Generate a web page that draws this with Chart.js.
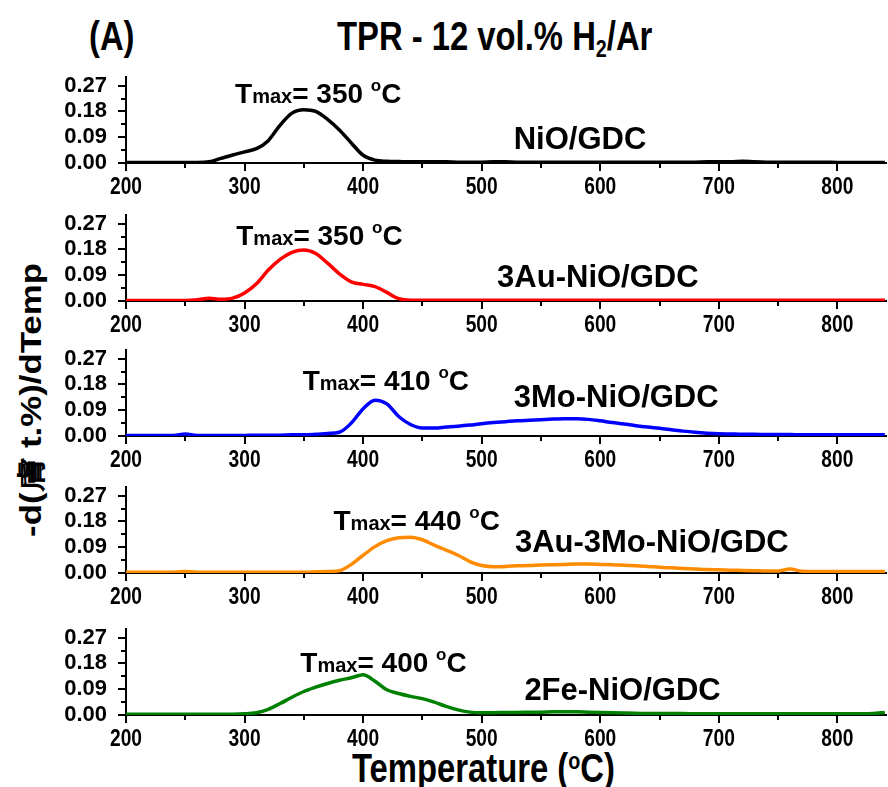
<!DOCTYPE html>
<html>
<head>
<meta charset="utf-8">
<script src="https://cdn.jsdelivr.net/npm/chart.js@4.4.1/dist/chart.umd.min.js"></script>
<style>
  body { margin: 0; background: #fff; }
  #page { position: relative; width: 888px; height: 787px; overflow: hidden; font-family: "Liberation Sans", Arial, sans-serif; font-weight: bold; color: #000; }
  .panel { position: absolute; left: 0; }
  .txt { position: absolute; white-space: nowrap; line-height: 1; }
  .cond { transform-origin: 0 0; transform: scaleX(0.82); font-size: 40px; }
  sup { font-size: 60%; vertical-align: 0; position: relative; top: -0.55em; }
  sub { font-size: 60%; vertical-align: 0; position: relative; top: 0.3em; }
</style>
</head>
<body>
<div id="page">
  <div class="txt cond" style="left:89px; top:16px;">(A)</div>
  <div class="txt cond" style="left:337px; top:16px;">TPR - 12 vol.% H<sub>2</sub>/Ar</div>
  <div class="txt" style="left:31px; top:400px; font-size:29px; transform: translate(-50%, -50%) rotate(-90deg) scaleX(1.2);">-d(膚 t.%)/dTemp</div>
  <div class="txt cond" style="left:352px; top:748px;">Temperature (<sup>o</sup>C)</div>

  <div class="panel" id="p0"><canvas id="c0" width="888" height="134"></canvas></div>
  <div class="panel" id="p1"><canvas id="c1" width="888" height="134"></canvas></div>
  <div class="panel" id="p2"><canvas id="c2" width="888" height="134"></canvas></div>
  <div class="panel" id="p3"><canvas id="c3" width="888" height="134"></canvas></div>
  <div class="panel" id="p4"><canvas id="c4" width="888" height="134"></canvas></div>
</div>
<script>
// temperature grid, degC
const temps = [
  200, 210, 220, 230, 240, 250, 260, 270, 280, 290,
  300, 310, 320, 330, 340, 350, 360, 370, 380, 390,
  400, 410, 420, 430, 440, 450, 460, 470, 480, 490,
  500, 510, 520, 530, 540, 550, 560, 570, 580, 590,
  600, 610, 620, 630, 640, 650, 660, 670, 680, 690,
  700, 710, 720, 730, 740, 750, 760, 770, 780, 790,
  800, 810, 820, 830, 840
];

// -d(wt.%)/dT for each sample
const nioGdc = [
  0.002, 0.002, 0.002, 0.002, 0.002, 0.002, 0.002, 0.004, 0.016, 0.028,
  0.039, 0.050, 0.078, 0.132, 0.174, 0.186, 0.180, 0.152, 0.115, 0.070,
  0.027, 0.010, 0.006, 0.005, 0.004, 0.004, 0.004, 0.004, 0.003, 0.003,
  0.003, 0.004, 0.004, 0.003, 0.003, 0.003, 0.003, 0.003, 0.003, 0.003,
  0.003, 0.003, 0.003, 0.003, 0.003, 0.003, 0.003, 0.003, 0.003, 0.004,
  0.004, 0.004, 0.006, 0.004, 0.003, 0.003, 0.003, 0.003, 0.003, 0.003,
  0.002, 0.002, 0.002, 0.002, 0.002
];
const auNiO = [
  0.002, 0.002, 0.002, 0.002, 0.002, 0.002, 0.004, 0.010, 0.006, 0.010,
  0.028, 0.060, 0.108, 0.145, 0.170, 0.178, 0.166, 0.132, 0.095, 0.067,
  0.058, 0.050, 0.030, 0.008, 0.003, 0.003, 0.003, 0.003, 0.003, 0.003,
  0.003, 0.003, 0.003, 0.003, 0.003, 0.003, 0.003, 0.003, 0.003, 0.003,
  0.003, 0.003, 0.003, 0.003, 0.003, 0.003, 0.003, 0.003, 0.003, 0.003,
  0.003, 0.003, 0.003, 0.003, 0.003, 0.003, 0.003, 0.003, 0.003, 0.003,
  0.003, 0.003, 0.003, 0.003, 0.003
];
const moNiO = [
  0.002, 0.002, 0.002, 0.002, 0.002, 0.007, 0.002, 0.002, 0.002, 0.002,
  0.002, 0.003, 0.003, 0.003, 0.004, 0.004, 0.006, 0.009, 0.013, 0.045,
  0.095, 0.125, 0.112, 0.068, 0.040, 0.028, 0.028, 0.031, 0.034, 0.038,
  0.043, 0.047, 0.050, 0.053, 0.055, 0.057, 0.059, 0.060, 0.060, 0.058,
  0.053, 0.047, 0.042, 0.036, 0.031, 0.027, 0.022, 0.017, 0.013, 0.010,
  0.008, 0.007, 0.006, 0.006, 0.005, 0.005, 0.005, 0.004, 0.004, 0.004,
  0.004, 0.004, 0.004, 0.004, 0.004
];
const auMoNiO = [
  0.003, 0.003, 0.003, 0.003, 0.003, 0.005, 0.003, 0.003, 0.003, 0.003,
  0.003, 0.003, 0.003, 0.003, 0.003, 0.003, 0.004, 0.005, 0.008, 0.030,
  0.062, 0.092, 0.113, 0.123, 0.125, 0.116, 0.097, 0.080, 0.062, 0.040,
  0.026, 0.022, 0.023, 0.025, 0.026, 0.028, 0.029, 0.030, 0.031, 0.031,
  0.030, 0.029, 0.027, 0.025, 0.023, 0.020, 0.018, 0.016, 0.014, 0.012,
  0.011, 0.010, 0.009, 0.008, 0.007, 0.007, 0.014, 0.006, 0.005, 0.005,
  0.005, 0.005, 0.005, 0.005, 0.005
];
const feNiO = [
  0.003, 0.003, 0.003, 0.003, 0.003, 0.003, 0.003, 0.003, 0.003, 0.003,
  0.004, 0.008, 0.020, 0.040, 0.062, 0.082, 0.097, 0.110, 0.121, 0.130,
  0.140, 0.118, 0.088, 0.075, 0.065, 0.057, 0.045, 0.030, 0.018, 0.010,
  0.008, 0.008, 0.009, 0.009, 0.010, 0.010, 0.011, 0.011, 0.011, 0.010,
  0.009, 0.008, 0.007, 0.006, 0.005, 0.005, 0.005, 0.005, 0.004, 0.004,
  0.004, 0.004, 0.004, 0.004, 0.004, 0.004, 0.004, 0.004, 0.004, 0.004,
  0.004, 0.004, 0.004, 0.005, 0.009
];

const sampleNames = ["NiO/GDC", "3Au-NiO/GDC", "3Mo-NiO/GDC", "3Au-3Mo-NiO/GDC", "2Fe-NiO/GDC"];
const tmaxValues = [350, 350, 410, 440, 400];
const lineColors = ["#000000", "#ff0000", "#0000ff", "#ff8c00", "#008000"];
const series = [nioGdc, auNiO, moNiO, auMoNiO, feNiO];

const yTicks = [0, 0.09, 0.18, 0.27];
const yMinor = [0.045, 0.135, 0.225];
const xMinor = [250, 350, 450, 550, 650, 750];

// where the labels sit inside each panel, in data units (T, value)
const tmaxAt = [[292, 0.21], [293, 0.196], [349, 0.161], [375, 0.15], [347, 0.15]];
const nameAt = [[527, 0.049], [513, 0.049], [527, 0.10], [528, 0.073], [536, 0.052]];

// baseline (0.00) of each panel, in page pixels
const panelBase = [163, 301, 436, 573, 715];
const TOP_PAD = 14;
const PLOT_H = 86;
const AXIS_H = 34;

const axisExtras = {
    id: "axisExtras",
    afterDraw(chart) {
        const { ctx, chartArea, scales } = chart;
        ctx.save();
        // minor ticks
        ctx.strokeStyle = "#000";
        ctx.lineWidth = 2;
        ctx.beginPath();
        xMinor.forEach(v => {
            const px = Math.round(scales.x.getPixelForValue(v));
            ctx.moveTo(px, chartArea.bottom);
            ctx.lineTo(px, chartArea.bottom + 5);
        });
        yMinor.forEach(v => {
            const py = Math.round(scales.y.getPixelForValue(v));
            ctx.moveTo(chartArea.left, py);
            ctx.lineTo(chartArea.left - 5, py);
        });
        ctx.stroke();

        // condensed x tick labels
        ctx.fillStyle = "#000";
        ctx.font = "bold 24px 'Liberation Sans', Arial, sans-serif";
        ctx.textAlign = "center";
        ctx.textBaseline = "top";
        scales.x.ticks.forEach(t => {
            const px = scales.x.getPixelForValue(t.value);
            ctx.save();
            ctx.translate(px, chartArea.bottom + 12);
            ctx.scale(0.8, 1);
            ctx.fillText(String(t.value), 0, 0);
            ctx.restore();
        });
        ctx.restore();
    }
};

function drawParts(ctx, x, y, parts) {
    parts.forEach(p => {
        ctx.font = "bold " + p.size + "px 'Liberation Sans', Arial, sans-serif";
        ctx.fillText(p.t, x, y + (p.dy || 0));
        x += ctx.measureText(p.t).width;
    });
}

const panelText = {
    id: "panelText",
    afterDraw(chart, args, opts) {
        const { ctx, scales } = chart;
        ctx.save();
        ctx.fillStyle = "#000";
        ctx.textBaseline = "alphabetic";
        ctx.textAlign = "left";
        const tx = scales.x.getPixelForValue(opts.tmaxAt[0]);
        const ty = scales.y.getPixelForValue(opts.tmaxAt[1]);
        drawParts(ctx, tx, ty, [
            { t: "T", size: 28 },
            { t: "max", size: 20 },
            { t: "= " + opts.tmax + " ", size: 28 },
            { t: "o", size: 17, dy: -12 },
            { t: "C", size: 28 }
        ]);
        const nx = scales.x.getPixelForValue(opts.nameAt[0]);
        const ny = scales.y.getPixelForValue(opts.nameAt[1]);
        drawParts(ctx, nx, ny, [{ t: opts.name, size: 31 }]);
        ctx.restore();
    }
};

function noPadding(s) {
    s.paddingTop = 0;
    s.paddingBottom = 0;
    s.paddingLeft = 0;
    s.paddingRight = 0;
}

function makePanel(i) {
    document.getElementById("p" + i).style.top = (panelBase[i] - PLOT_H - TOP_PAD) + "px";
    const points = temps.map((t, k) => ({ x: t, y: series[i][k] }));

    new Chart(document.getElementById("c" + i), {
        type: "line",
        data: {
            datasets: [{
                data: points,
                borderColor: lineColors[i],
                borderWidth: 3.5,
                pointRadius: 0,
                cubicInterpolationMode: "monotone",
                fill: false
            }]
        },
        options: {
            responsive: false,
            animation: false,
            devicePixelRatio: 1,
            layout: { padding: { top: TOP_PAD, right: 2, left: 0, bottom: 0 } },
            plugins: {
                legend: { display: false },
                tooltip: { enabled: false },
                panelText: {
                    tmax: tmaxValues[i],
                    name: sampleNames[i],
                    tmaxAt: tmaxAt[i],
                    nameAt: nameAt[i]
                }
            },
            scales: {
                x: {
                    type: "linear",
                    min: 200,
                    max: 841,
                    afterFit: s => { s.height = AXIS_H; noPadding(s); },
                    border: { display: true, color: "#000", width: 2 },
                    grid: { drawOnChartArea: false, drawTicks: true, tickLength: 8, color: "#000", lineWidth: 2 },
                    ticks: { stepSize: 100, includeBounds: false, display: false }
                },
                y: {
                    min: 0,
                    max: 0.30,
                    afterFit: s => { s.width = 126; noPadding(s); },
                    afterBuildTicks: s => { s.ticks = yTicks.map(v => ({ value: v })); },
                    border: { display: true, color: "#000", width: 2 },
                    grid: { drawOnChartArea: false, drawTicks: true, tickLength: 8, color: "#000", lineWidth: 2 },
                    ticks: {
                        autoSkip: false,
                        padding: 11,
                        color: "#000",
                        callback: v => v.toFixed(2),
                        font: { family: "'Liberation Sans', Arial, sans-serif", size: 22, weight: "bold" }
                    }
                }
            }
        },
        plugins: [axisExtras, panelText]
    });
}

document.addEventListener("DOMContentLoaded", () => {
    for (let i = 0; i < 5; i++) {
        makePanel(i);
    }
});
</script>
</body>
</html>
